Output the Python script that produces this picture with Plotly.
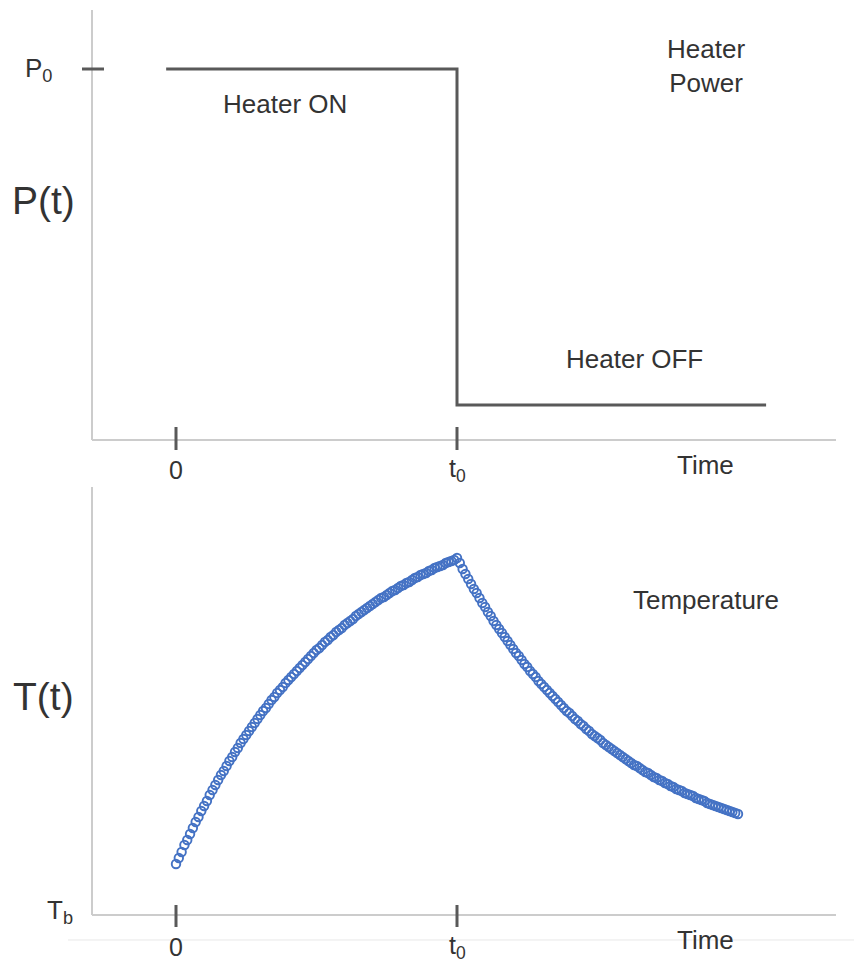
import plotly.graph_objects as go

# ---------------- data ----------------
# Heater power step (time in units of t0, power in units of P0)
power_time = [-0.035, 1.0, 1.0, 2.10]
power_value = [1.0, 1.0, 0.0, 0.0]

# Temperature samples, time step 0.01 t0
TIME_STEP = 0.01
temp_heating = [
    0.51, 0.57, 0.63, 0.70, 0.75, 0.81, 0.87, 0.93, 0.98, 1.04,
    1.09, 1.14, 1.20, 1.25, 1.30, 1.35, 1.40, 1.44, 1.49, 1.54,
    1.58, 1.63, 1.67, 1.72, 1.76, 1.80, 1.84, 1.88, 1.92, 1.96,
    2.00, 2.04, 2.07, 2.11, 2.15, 2.18, 2.22, 2.25, 2.28, 2.32,
    2.35, 2.38, 2.41, 2.44, 2.47, 2.50, 2.53, 2.56, 2.59, 2.62,
    2.65, 2.67, 2.70, 2.73, 2.75, 2.78, 2.80, 2.83, 2.85, 2.87,
    2.90, 2.92, 2.94, 2.96, 2.99, 3.01, 3.03, 3.05, 3.07, 3.09,
    3.11, 3.13, 3.15, 3.17, 3.18, 3.20, 3.22, 3.24, 3.25, 3.27,
    3.29, 3.30, 3.32, 3.33, 3.35, 3.37, 3.38, 3.40, 3.41, 3.42,
    3.44, 3.45, 3.47, 3.48, 3.49, 3.50, 3.52, 3.53, 3.54, 3.55,
    3.57,
]
temp_cooling = [
    3.52, 3.46, 3.41, 3.36, 3.31, 3.26, 3.22, 3.17, 3.12,
    3.08, 3.03, 2.99, 2.94, 2.90, 2.86, 2.82, 2.78, 2.74, 2.70,
    2.66, 2.62, 2.59, 2.55, 2.51, 2.48, 2.44, 2.41, 2.38, 2.34,
    2.31, 2.28, 2.25, 2.22, 2.19, 2.16, 2.13, 2.10, 2.07, 2.04,
    2.02, 1.99, 1.96, 1.94, 1.91, 1.89, 1.86, 1.84, 1.81, 1.79,
    1.77, 1.75, 1.72, 1.70, 1.68, 1.66, 1.64, 1.62, 1.60, 1.58,
    1.56, 1.54, 1.52, 1.50, 1.49, 1.47, 1.45, 1.43, 1.42, 1.40,
    1.38, 1.37, 1.35, 1.34, 1.32, 1.31, 1.29, 1.28, 1.26, 1.25,
    1.24, 1.22, 1.21, 1.20, 1.19, 1.17, 1.16, 1.15, 1.14, 1.12,
    1.11, 1.10, 1.09, 1.08, 1.07, 1.06, 1.05, 1.04, 1.03, 1.02,
    1.01,
]
temperature = temp_heating + temp_cooling
temp_time = [round(i * TIME_STEP, 2) for i in range(len(temperature))]

tick_positions = [0.0, 1.0]
tick_labels = ["0", "t<sub>0</sub>"]

# ---------------- styling ----------------
FONT = "Liberation Sans, Arial, sans-serif"
TXT = "#333333"
DARK = "#595959"
AXIS = "#cccccc"
BLUE = "#4472C4"

X_RANGE = [-0.62633, 2.41281]
AX_LEFT, AX_RIGHT = -0.29893, 2.34875

fig = go.Figure()

fig.add_trace(go.Scatter(
    x=power_time, y=power_value, mode="lines",
    line=dict(color=DARK, width=3), xaxis="x", yaxis="y",
    hoverinfo="skip", showlegend=False,
))
fig.add_trace(go.Scatter(
    x=temp_time, y=temperature, mode="markers",
    marker=dict(symbol="circle-open", size=8.5, color=BLUE, line=dict(width=1.9)),
    xaxis="x2", yaxis="y2", showlegend=False,
))

shapes = []


def seg(xr, yr, x0, y0, x1, y1, color, width):
    shapes.append(dict(type="line", xref=xr, yref=yr, x0=x0, y0=y0, x1=x1, y1=y1,
                       line=dict(color=color, width=width), layer="below"))


# top panel axes
seg("x", "y", AX_LEFT, -0.10417, AX_LEFT, 1.1756, AXIS, 2)
seg("x", "y", AX_LEFT, -0.10417, AX_RIGHT, -0.10417, AXIS, 2)
seg("x", "y", -0.3345, 1.0, -0.2562, 1.0, DARK, 3)
for tp in tick_positions:
    seg("x", "y", tp, -0.06548, tp, -0.13393, DARK, 3)

# bottom panel axes
seg("x2", "y2", AX_LEFT, 0.0, AX_LEFT, 4.28, AXIS, 2)
seg("x2", "y2", AX_LEFT, 0.0, AX_RIGHT, 0.0, AXIS, 2)
seg("x2", "y2", -0.3843, -0.25, 2.4128, -0.25, "#e8e8e8", 1)
for tp in tick_positions:
    seg("x2", "y2", tp, 0.10, tp, -0.12, DARK, 3)

ann = []


def label(xr, yr, x, y, text, size=26):
    ann.append(dict(xref=xr, yref=yr, x=x, y=y, text=text, showarrow=False,
                    xanchor="center", yanchor="middle",
                    font=dict(family=FONT, size=size, color=TXT)))


# top panel texts
label("x", "y", -0.4911, 1.0, "P<sub>0</sub>", 26)
label("x", "y", -0.4698, 0.6101, "P(t)", 39)
label("x", "y", 0.3879, 0.8958, "Heater ON")
label("x", "y", 1.6299, 0.1369, "Heater OFF")
label("x", "y", 1.8861, 1.0089, "Heater<br>Power")
for tp, tl in zip(tick_positions, tick_labels):
    label("x", "y", tp, -0.1935, tl, 25)
label("x", "y", 1.8861, -0.1786, "Time")

# bottom panel texts
label("x2", "y2", -0.4698, 2.18, "T(t)", 39)
label("x2", "y2", 1.8861, 3.15, "Temperature")
label("x2", "y2", -0.4128, 0.03, "T<sub>b</sub>", 26)
for tp, tl in zip(tick_positions, tick_labels):
    label("x2", "y2", tp, -0.32, tl, 25)
label("x2", "y2", 1.8861, -0.25, "Time")

hidden = dict(visible=False, showgrid=False, zeroline=False, fixedrange=True)

fig.update_layout(
    width=854, height=963,
    margin=dict(l=0, r=0, t=0, b=0),
    paper_bgcolor="white", plot_bgcolor="white",
    showlegend=False,
    shapes=shapes, annotations=ann,
    xaxis=dict(domain=[0, 1], range=X_RANGE, anchor="y", **hidden),
    yaxis=dict(domain=[0.50156, 1.0], range=[-0.22321, 1.20536], anchor="x", **hidden),
    xaxis2=dict(domain=[0, 1], range=X_RANGE, anchor="y2", **hidden),
    yaxis2=dict(domain=[0.0, 0.50156], range=[-0.48, 4.35], anchor="x2", **hidden),
)

fig.write_html("out.html")
